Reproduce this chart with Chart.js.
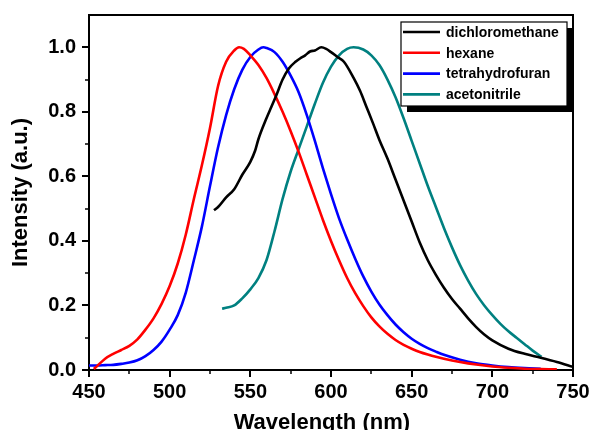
<!DOCTYPE html>
<html><head><meta charset="utf-8">
<script src="https://cdn.jsdelivr.net/npm/chart.js@4/dist/chart.umd.min.js"></script>
<style>html,body{margin:0;padding:0;background:#fff}#wrap{width:593px;height:430px}</style>
</head><body><div id="wrap"><canvas id="c" width="593" height="430"></canvas></div>
<script>
const xTicks = [450, 500, 550, 600, 650, 700, 750];
const xMinorTicks = [475, 525, 575, 625, 675, 725];
const yTicks = [0, 0.2, 0.4, 0.6, 0.8, 1.0];
const yMinorTicks = [0.1, 0.3, 0.5, 0.7, 0.9];
const seriesNames = ['dichloromethane', 'hexane', 'tetrahydrofuran', 'acetonitrile'];
const seriesColors = ['#000000', '#ff0000', '#0000ff', '#008080'];

const dcmX = [527.5,530,535,540,545,550,553,555,560,563,566,570,574,578,581,584,587,590,594,597,600,604,608,614,618,622,626,630,635,640,645,650,655,660,665,670,675,680,685,690,695,700,710,720,730,740,750];
const dcmY = [0.495,0.505,0.535,0.56,0.605,0.645,0.68,0.715,0.78,0.815,0.85,0.9,0.935,0.955,0.966,0.975,0.987,0.99,1.0,0.995,0.985,0.97,0.955,0.905,0.865,0.815,0.765,0.713,0.655,0.59,0.525,0.46,0.395,0.34,0.295,0.255,0.22,0.19,0.16,0.133,0.11,0.092,0.066,0.05,0.038,0.025,0.01];

const hexX = [453,455,460,465,470,475,480,485,490,495,500,505,510,515,520,525,530,535,540,543,546,550,555,560,565,570,575,580,585,590,595,600,605,610,615,620,625,630,635,640,645,650,655,660,665,670,680,690,700,710,720,730,740];
const hexY = [0.003,0.012,0.035,0.05,0.062,0.075,0.095,0.125,0.16,0.205,0.26,0.33,0.42,0.53,0.635,0.75,0.88,0.955,0.99,1.0,0.995,0.975,0.945,0.905,0.855,0.80,0.74,0.675,0.605,0.535,0.465,0.40,0.34,0.285,0.238,0.198,0.163,0.135,0.112,0.093,0.078,0.066,0.056,0.048,0.041,0.035,0.025,0.017,0.011,0.007,0.004,0.003,0.002];

const thfX = [450,455,460,465,470,475,480,485,490,495,500,505,510,515,520,525,530,535,540,545,550,555,558,560,565,570,575,580,585,590,595,600,605,610,615,620,625,630,635,640,645,650,655,660,665,670,680,690,700,710,720,730];
const thfY = [0.014,0.014,0.015,0.016,0.019,0.023,0.03,0.043,0.062,0.088,0.125,0.17,0.24,0.34,0.445,0.57,0.69,0.79,0.87,0.93,0.97,0.993,1.0,0.998,0.985,0.955,0.912,0.86,0.79,0.71,0.625,0.545,0.47,0.405,0.345,0.29,0.243,0.203,0.17,0.141,0.117,0.097,0.081,0.068,0.057,0.047,0.032,0.021,0.014,0.009,0.006,0.004];

const acnX = [532.5,535,540,545,550,555,560,565,570,575,580,585,590,595,600,605,610,614,620,625,630,635,640,645,650,655,660,665,670,675,680,685,690,695,700,705,710,715,720,725,730.5];
const acnY = [0.19,0.193,0.2,0.222,0.25,0.285,0.34,0.43,0.53,0.615,0.685,0.755,0.825,0.89,0.94,0.975,0.995,1.0,0.993,0.975,0.945,0.9,0.845,0.78,0.71,0.64,0.57,0.505,0.44,0.38,0.325,0.277,0.235,0.2,0.17,0.143,0.12,0.1,0.08,0.06,0.041];

const seriesX = [dcmX, hexX, thfX, acnX];
const seriesY = [dcmY, hexY, thfY, acnY];

const datasets = seriesNames.map((name, i) => ({
  label: name,
  data: seriesX[i].map((x, k) => ({x: x, y: seriesY[i][k]})),
  borderColor: seriesColors[i],
  backgroundColor: seriesColors[i],
  borderWidth: 2.6,
  pointRadius: 0,
  fill: false,
  cubicInterpolationMode: 'monotone'
}));

const FONT = "'Liberation Sans', Arial, sans-serif";

const framePlugin = {
  id: 'frame',
  afterDraw(chart) {
    const ctx = chart.ctx;
    const a = chart.chartArea;
    const xs = chart.scales.x, ys = chart.scales.y;
    ctx.save();
    ctx.strokeStyle = '#000';
    ctx.lineWidth = 2;
    ctx.beginPath();
    ctx.moveTo(a.left - 1, a.top);
    ctx.lineTo(a.right, a.top);
    ctx.lineTo(a.right, a.bottom + 1);
    ctx.stroke();
    // minor ticks
    ctx.lineWidth = 1.5;
    ctx.beginPath();
    xMinorTicks.forEach(v => {
      const px = Math.round(xs.getPixelForValue(v));
      ctx.moveTo(px, a.bottom);
      ctx.lineTo(px, a.bottom + 4);
    });
    yMinorTicks.forEach(v => {
      const py = Math.round(ys.getPixelForValue(v));
      ctx.moveTo(a.left, py);
      ctx.lineTo(a.left - 4, py);
    });
    ctx.stroke();

    // legend box
    const bx = 401, by = 22, bw = 166, bh = 84, sh = 6;
    ctx.fillStyle = '#000';
    ctx.fillRect(bx + sh, by + sh, bw, bh);
    ctx.fillStyle = '#fff';
    ctx.fillRect(bx, by, bw, bh);
    ctx.lineWidth = 1.2;
    ctx.strokeStyle = '#000';
    ctx.strokeRect(bx, by, bw, bh);
    ctx.font = "bold 14px " + FONT;
    ctx.textBaseline = 'middle';
    ctx.textAlign = 'left';
    chart.data.datasets.forEach((ds, i) => {
      const y = 32 + i * 20.8;
      ctx.strokeStyle = ds.borderColor;
      ctx.lineWidth = 2.6;
      ctx.beginPath();
      ctx.moveTo(403, y);
      ctx.lineTo(440, y);
      ctx.stroke();
      ctx.fillStyle = '#000';
      ctx.fillText(ds.label, 446, y + 1);
    });
    ctx.restore();
  }
};

new Chart(document.getElementById('c'), {
  type: 'line',
  data: { datasets: datasets },
  plugins: [framePlugin],
  options: {
    responsive: false,
    animation: false,
    devicePixelRatio: 1,
    layout: { padding: { left: 0, right: 20, top: 15, bottom: 0 } },
    plugins: { legend: { display: false }, tooltip: { enabled: false } },
    scales: {
      x: {
        type: 'linear',
        min: 450, max: 750,
        afterBuildTicks: s => { s.ticks = xTicks.map(v => ({value: v})); },
        afterFit: s => { s.height = 60; s.paddingLeft = 0; s.paddingRight = 0; },
        ticks: { color: '#000', font: { family: FONT, size: 20, weight: 'bold' }, padding: 3, maxRotation: 0, autoSkip: false, callback: v => String(v) },
        grid: { drawOnChartArea: false, drawTicks: true, tickLength: 7, color: '#000', lineWidth: 2 },
        border: { display: true, color: '#000', width: 2 },
        title: { display: true, text: 'Wavelength (nm)   ', color: '#000', font: { family: FONT, size: 22, weight: 'bold', lineHeight: 1 }, padding: { top: 0, bottom: -4 } }
      },
      y: {
        type: 'linear',
        min: 0, max: 1.1,
        afterBuildTicks: s => { s.ticks = yTicks.map(v => ({value: v})); },
        afterFit: s => { s.width = 89; s.paddingTop = 0; s.paddingBottom = 0; },
        ticks: { color: '#000', font: { family: FONT, size: 20, weight: 'bold' }, padding: 6, autoSkip: false, callback: v => Number(v).toFixed(1) },
        grid: { drawOnChartArea: false, drawTicks: true, tickLength: 7, color: '#000', lineWidth: 2 },
        border: { display: true, color: '#000', width: 2 },
        title: { display: true, text: 'Intensity (a.u.)', color: '#000', font: { family: FONT, size: 22, weight: 'bold', lineHeight: 1 }, padding: { top: 10, bottom: 0 } }
      }
    }
  }
});
</script>
</body></html>
